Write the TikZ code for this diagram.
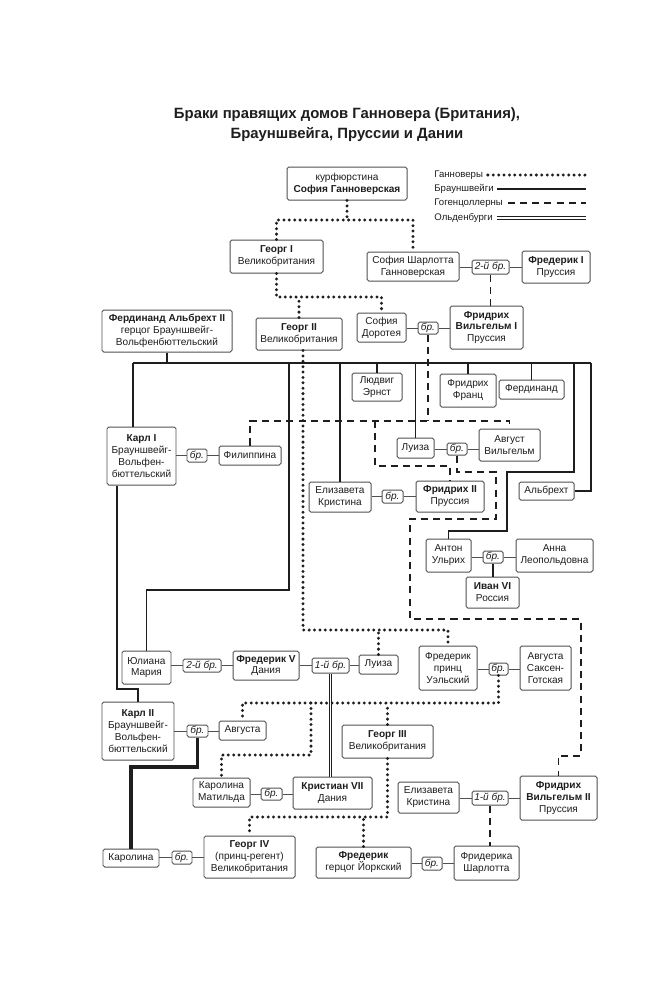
\documentclass[tikz,border=0pt]{standalone}
\usepackage{fontspec}
\setmainfont{Liberation Sans}
\usetikzlibrary{calc}
\definecolor{ink}{HTML}{1E1E1E}
\definecolor{frame}{HTML}{505050}

\begin{document}
\begin{tikzpicture}[x=0.03cm,y=-0.03cm,
  box/.style 2 args={draw=frame,line width=0.85pt,rounded corners=1.5pt,align=center,inner sep=0pt,
    minimum width=#1*0.03cm,minimum height=#2*0.03cm,text=ink,font=\fontsize{8.6}{10.2}\selectfont},
  wed/.style 2 args={box={#1}{#2},font=\fontsize{8.6}{10}\selectfont\itshape},
  tie/.style={draw=frame,line width=0.7pt},
  hann/.style={ink,line width=2.8pt,line cap=round,dash pattern=on 0pt off 4.6pt},
  bru/.style={ink,line width=1.3pt},
  hoh/.style={ink,line width=1.2pt,dash pattern=on 6pt off 4.4pt},
  old/.style={ink,double=white,double distance=1.3pt,line width=0.8pt},
  lgd/.style={anchor=west,inner sep=1pt,text=ink,font=\fontsize{8.2}{10}\selectfont}]
\fill[white] (0,0) rectangle (659,1000);
\useasboundingbox (0,0) rectangle (659,1000);

% title
\node[text=ink,align=center,font=\fontsize{12.7}{17}\selectfont\bfseries] (T) at (347,125)
  {Браки правящих домов Ганновера (Британия),\\Брауншвейга, Пруссии и Дании};

% legend
\node[lgd] (LH) at (433,175) {Ганноверы};
\node[lgd] (LB) at (433,189) {Брауншвейги};
\node[lgd] (LG) at (433,203) {Гогенцоллерны};
\node[lgd] (LO) at (433,218) {Ольденбурги};
\coordinate (LX) at (586,0);
\draw[hann] ([xshift=3pt]LH.east) -- (LH.east -| LX);
\draw[bru] ([xshift=2pt]LB.east) -- (LB.east -| LX);
\draw[hoh] ([xshift=3pt]LG.east) -- (LG.east -| LX);
\draw[old] ([xshift=2pt]LO.east) -- (LO.east -| LX);

% people
\node[box={120}{33}] (SG) at (347,183.5) {курфюрстина\\\textbf{София Ганноверская}};
\node[box={93}{33}] (G1) at (276.5,256.5) {\textbf{Георг I}\\Великобритания};
\node[box={92}{29}] (SC) at (413,266.5) {София Шарлотта\\Ганноверская};
\node[wed={37}{14}] (M1) at (490.5,267) {2-й бр.};
\node[box={68}{32}] (F1) at (556,267) {\textbf{Фредерик I}\\Пруссия};
\node[box={73}{43}] (FW1) at (486.5,327.5) {\textbf{Фридрих}\\\textbf{Вильгельм I}\\Пруссия};
\node[box={86}{32}] (G2) at (299,334) {\textbf{Георг II}\\Великобритания};
\node[box={49}{29}] (SD) at (381.5,327.5) {София\\Доротея};
\node[wed={20}{12}] (M2) at (428,328) {бр.};
\node[box={130}{42}] (FA) at (167,331) {\textbf{Фердинанд Альбрехт II}\\герцог Брауншвейг-\\Вольфенбюттельский};
\node[box={50}{28}] (LE) at (377,387) {Людвиг\\Эрнст};
\node[box={56}{33}] (FF) at (468,390.5) {Фридрих\\Франц};
\node[box={65}{19}] (FD) at (531.5,389.5) {Фердинанд};
\node[box={69}{58}] (K1) at (141.5,456) {\textbf{Карл I}\\Брауншвейг-\\Вольфен-\\бюттельский};
\node[wed={20}{13}] (M3) at (197,455.5) {бр.};
\node[box={62}{19}] (PH) at (250,455.5) {Филиппина};
\node[box={37}{20}] (LU) at (415.5,448) {Луиза};
\node[wed={20}{12}] (M4) at (457,449) {бр.};
\node[box={61}{32}] (AW) at (509.5,445) {Август\\Вильгельм};
\node[box={62}{30}] (EK) at (340,497) {Елизавета\\Кристина};
\node[wed={21}{13}] (M5) at (392.5,496.5) {бр.};
\node[box={68}{31}] (F2) at (450,496.5) {\textbf{Фридрих II}\\Пруссия};
\node[box={55}{18}] (AL) at (546.5,491) {Альбрехт};
\node[box={45}{33}] (AU) at (448.5,555.5) {Антон\\Ульрих};
\node[wed={20}{12}] (M6) at (493,557) {бр.};
\node[box={77}{33}] (AN) at (554.5,555.5) {Анна\\Леопольдовна};
\node[box={53}{31}] (IV) at (492.5,592.5) {\textbf{Иван VI}\\Россия};
\node[box={49}{33}] (JM) at (146.5,667.5) {Юлиана\\Мария};
\node[wed={38}{13}] (M7) at (202,665.5) {2-й бр.};
\node[box={66}{29}] (F5) at (266,665.5) {\textbf{Фредерик V}\\Дания};
\node[wed={37}{15}] (M8) at (330.5,665.5) {1-й бр.};
\node[box={39}{19}] (LZ) at (378.5,664.5) {Луиза};
\node[box={58}{44}] (FP) at (448,668) {Фредерик\\принц\\Уэльский};
\node[wed={19}{12}] (M9) at (498.5,669) {бр.};
\node[box={51}{44}] (AS) at (545.5,668) {Августа\\Саксен-\\Готская};
\node[box={72}{58}] (K2) at (138,731) {\textbf{Карл II}\\Брауншвейг-\\Вольфен-\\бюттельский};
\node[wed={21}{12}] (M10) at (197.5,731) {бр.};
\node[box={47}{19}] (AG) at (242.5,730.5) {Августа};
\node[box={91}{33}] (G3) at (387.5,741.5) {\textbf{Георг III}\\Великобритания};
\node[box={57}{29}] (KM) at (221.5,792.5) {Каролина\\Матильда};
\node[wed={21}{12}] (M11) at (271.5,794) {бр.};
\node[box={79}{32}] (C7) at (332.5,793) {\textbf{Кристиан VII}\\Дания};
\node[box={61}{31}] (EK2) at (428.5,797.5) {Елизавета\\Кристина};
\node[wed={36}{14}] (M12) at (490,798) {1-й бр.};
\node[box={77}{44}] (FW2) at (558.5,798) {\textbf{Фридрих}\\\textbf{Вильгельм II}\\Пруссия};
\node[box={56}{18}] (KA) at (131,858) {Каролина};
\node[wed={20}{13}] (M13) at (182,857.5) {бр.};
\node[box={91}{42}] (G4) at (249.5,857) {\textbf{Георг IV}\\(принц-регент)\\Великобритания};
\node[box={95}{31}] (FY) at (363.5,862.5) {\textbf{Фредерик}\\герцог Йоркский};
\node[wed={20}{13}] (M14) at (432,863.5) {бр.};
\node[box={65}{34}] (FC) at (486.5,863) {Фридерика\\Шарлотта};

% marriages
\draw[tie] (M1.west -| SC.east) -- (M1.west) (M1.east) -- (M1.east -| F1.west);
\draw[tie] (M2.west -| SD.east) -- (M2.west) (M2.east) -- (M2.east -| FW1.west);
\draw[tie] (M3.west -| K1.east) -- (M3.west) (M3.east) -- (M3.east -| PH.west);
\draw[tie] (M4.west -| LU.east) -- (M4.west) (M4.east) -- (M4.east -| AW.west);
\draw[tie] (M5.west -| EK.east) -- (M5.west) (M5.east) -- (M5.east -| F2.west);
\draw[tie] (M6.west -| AU.east) -- (M6.west) (M6.east) -- (M6.east -| AN.west);
\draw[tie] (M7.west -| JM.east) -- (M7.west) (M7.east) -- (M7.east -| F5.west);
\draw[tie] (M8.west -| F5.east) -- (M8.west) (M8.east) -- (M8.east -| LZ.west);
\draw[tie] (M9.west -| FP.east) -- (M9.west) (M9.east) -- (M9.east -| AS.west);
\draw[tie] (M10.west -| K2.east) -- (M10.west) (M10.east) -- (M10.east -| AG.west);
\draw[tie] (M11.west -| KM.east) -- (M11.west) (M11.east) -- (M11.east -| C7.west);
\draw[tie] (M12.west -| EK2.east) -- (M12.west) (M12.east) -- (M12.east -| FW2.west);
\draw[tie] (M13.west -| KA.east) -- (M13.west) (M13.east) -- (M13.east -| G4.west);
\draw[tie] (M14.west -| FY.east) -- (M14.west) (M14.east) -- (M14.east -| FC.west);

% Hanover
\coordinate (h1) at (347,220);
\coordinate (h2) at (381.5,297);
\coordinate (h3) at (448,630);
\coordinate (h4) at (311,703);
\coordinate (h5) at (311,755);
\coordinate (h6) at (387.5,817);
\draw[hann] (SG) -- (h1);
\draw[hann] (G1.north) |- (h1) -| (SC.north);
\draw[hann] (G1.south) |- (h2) -- (SD.north);
\draw[hann] (G2.north) -- (G2.north |- h2);
\draw[hann] ($(G2.south)+(4,0)$) |- (h3) -- (FP.north);
\draw[hann] (LZ.north) -- (LZ.north |- h3);
\draw[hann] (M9.south) |- (h4) -| (AG.north);
\draw[hann] (G3.north) -- (G3.north |- h4);
\draw[hann] (h4) -- (h5) -| (KM.north);
\draw[hann] (G3.south) -- (h6) -| (G4.north);
\draw[hann] (FY.north) -- (FY.north |- h6);

% Brunswick
\coordinate (busL) at (133,363);
\coordinate (busR) at (591,363);
\coordinate (t1) at (289,590);
\coordinate (t2) at (574,472);
\coordinate (t3) at (507,531);
\coordinate (t4) at (117,689);
\coordinate (t5) at (131,767);
\draw[bru] (busL) -- (busR);
\draw[bru] (FA.south) -- (FA.south |- busL);
\draw[bru] (busL) -- (busL |- K1.north);
\draw[bru] (busL -| t1) -- (t1) -| (JM.north);
\draw[bru] (EK.north) -- (EK.north |- busL);
\draw[bru] (LE.north) -- (LE.north |- busL);
\draw[bru] (LU.north) -- (LU.north |- busL);
\draw[bru] (FF.north) -- (FF.north |- busL);
\draw[bru] (FD.north) -- (FD.north |- busL);
\draw[bru] (busL -| t2) -- (t2) -| (t3) -| (AU.north);
\draw[bru] (busR) |- (AL.east);
\draw[bru] (M6.south) -- (M6.south |- IV.north);
\draw[bru] (K1.south -| t4) -- (t4) -| (K2.north);
\draw[bru,line width=2.6pt] (M10.south) |- (t5) -- (KA.north);

% Hohenzollern
\coordinate (d1) at (375,421);
\coordinate (d2) at (375,466);
\coordinate (d3) at (496,472);
\coordinate (d4) at (410,519);
\coordinate (d5) at (581,619);
\coordinate (d6) at (581,756);
\draw[hoh] (M1.south) -- (M1.south |- FW1.north);
\draw[hoh] (M2.south) -- (M2.south |- d1);
\draw[hoh] (PH.north) |- (d1) -| (AW.north);
\draw[hoh] (d1) -- (d2) -| (F2.north);
\draw[hoh] (M4.south) |- (d3) |- (d4) |- (d5) -- (d6) -| (FW2.north);
\draw[hoh] (M12.south) -- (M12.south |- FC.north);

% Oldenburg
\draw[old] (M8.south) -- (M8.south |- C7.north);
\end{tikzpicture}
\end{document}
